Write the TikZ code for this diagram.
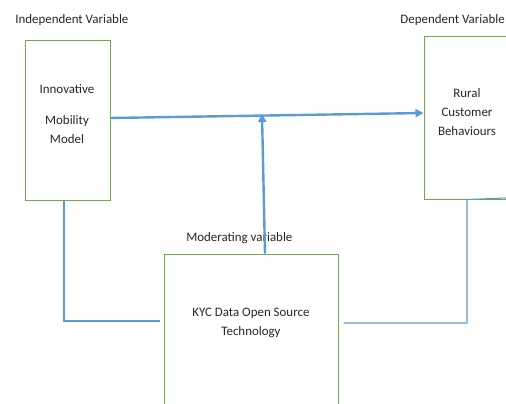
\documentclass[tikz,border=0pt]{standalone}
\usepackage{fontspec}
\setmainfont{Carlito}
\usetikzlibrary{arrows.meta,calc}
\definecolor{boxgreen}{RGB}{112,173,71}
\definecolor{lineblue}{RGB}{91,155,213}
\tikzset{
  vbox/.style={draw=boxgreen, line width=0.75pt, minimum width=#1, inner sep=0pt},
  lbl/.style={font=\fontsize{9.7}{14.5}\selectfont, inner sep=0pt, text=black!85},
  btxt/.style={font=\fontsize{9.7}{14.5}\selectfont, inner sep=0pt, align=center, text=black!85},
  bigarrow/.style={draw=lineblue, line width=1.8pt, -{Triangle[length=6pt,width=6pt]}},
  thinline/.style={draw=lineblue, line width=0.8pt}
}
\begin{document}
\begin{tikzpicture}[x=0.75pt,y=-0.75pt]
\useasboundingbox (0,0) rectangle (506,403);
% boxes
\node[vbox, minimum width=63.75pt, minimum height=119.25pt] (lb) at (67.5,120.5) {};
\node[vbox, minimum width=64.5pt, minimum height=121.5pt] (rb) at (467,118) {};
\node[vbox, minimum width=130.5pt, minimum height=124.5pt] (bb) at (251,337) {};
% headings
\node[lbl, anchor=west] (iv) at (15,20) {Independent Variable};
\node[lbl, anchor=east] (dv) at (505,20) {Dependent Variable};
\node[lbl, anchor=west] (mv) at (186,238) {Moderating variable};
% box texts
\node[btxt] (t1) at (67,89) {Innovative};
\node[btxt] (t2) at (67,129.5) {Mobility\\Model};
\node[btxt] (t3) at (467,112) {Rural\\Customer\\Behaviours};
\node[btxt] (t4) at (251,323) {KYC Data Open Source\\Technology};
% connectors
\coordinate (j) at (262,114);
\draw[bigarrow] (lb.east |- 0,118) -- (rb.west |- 0,113);
\draw[bigarrow] (bb.north -| 265,0) -- (j);
\coordinate (lend) at ($(bb.west |- 0,321)+(-4,0)$);
\draw[thinline] (lb.south -| 64,0) -- (64,321) -- (lend);
\coordinate (rstart) at ($(bb.east |- 0,323)+(5,0)$);
\coordinate (rend) at (506,198);
\draw[thinline] (rstart) -- (467,323) -- (rb.south -| 467,0) -- (rend);
\end{tikzpicture}
\end{document}
